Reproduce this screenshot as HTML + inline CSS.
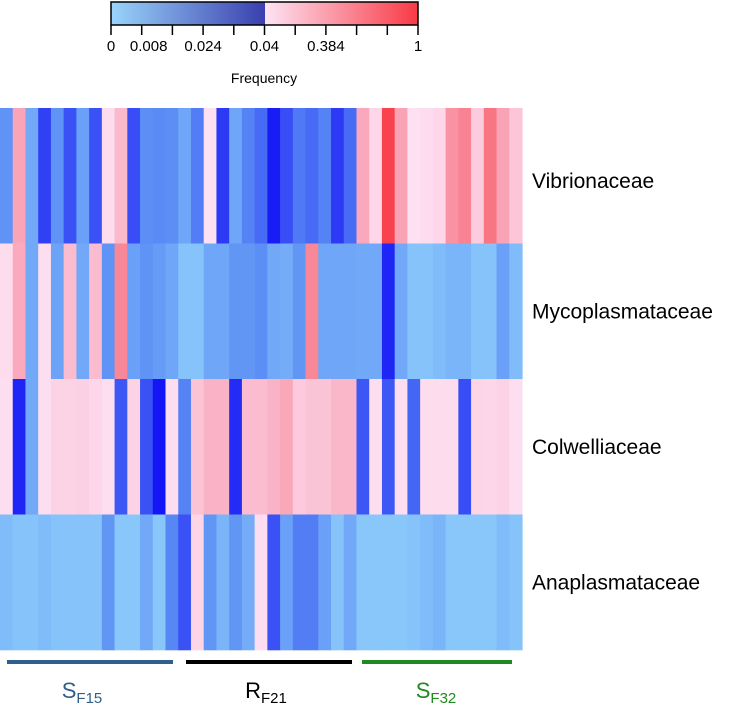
<!DOCTYPE html>
<html><head><meta charset="utf-8"><style>
body{margin:0;background:#fff;width:738px;height:707px;overflow:hidden;font-family:"Liberation Sans",sans-serif}
</style></head><body>
<svg id="chart" width="738" height="707" xmlns="http://www.w3.org/2000/svg" font-family="Liberation Sans, sans-serif">
<defs>
<linearGradient id="gb" x1="0" x2="1"><stop offset="0" stop-color="#9ad4fb"/><stop offset="1" stop-color="#3a3fae"/></linearGradient>
<linearGradient id="gr" x1="0" x2="1"><stop offset="0" stop-color="#fde4f4"/><stop offset="1" stop-color="#f83a45"/></linearGradient>
</defs>
<g>
<rect x="111" y="2" width="154" height="23" fill="url(#gb)"/>
<rect x="265" y="2" width="153" height="23" fill="url(#gr)"/>
<rect x="111" y="2" width="307" height="23" fill="none" stroke="#000" stroke-width="1.5"/>
<g id="ticks"></g>
<text x="264" y="83" font-size="14" text-anchor="middle">Frequency</text>
</g>
<g id="cells"></g>
<g id="rowlabels"></g>
<g>
<rect x="7" y="660" width="166" height="4" fill="#2f5f8a"/>
<rect x="186" y="660" width="166" height="4" fill="#000"/>
<rect x="362" y="660" width="150" height="4" fill="#1f8a1f"/>
<text x="82" y="698" font-size="22" text-anchor="middle" fill="#2f5f8a">S<tspan font-size="15" dy="5">F15</tspan></text>
<text x="266" y="698" font-size="22" text-anchor="middle" fill="#000">R<tspan font-size="15" dy="5">F21</tspan></text>
<text x="436" y="698" font-size="22" text-anchor="middle" fill="#1f8a1f">S<tspan font-size="15" dy="5">F32</tspan></text>
</g>
</svg>
<script>
const rowNames = ["Vibrionaceae","Mycoplasmataceae","Colwelliaceae","Anaplasmataceae"];
const vibrio = [0.016,0.35,0.009,0.033,0.016,0.03,0.012,0.03,0.06,0.22,0.031,0.017,0.018,0.017,0.01,0.021,0.04,0.034,0.01,0.02,0.025,0.038,0.031,0.022,0.025,0.02,0.034,0.025,0.33,0.08,0.95,0.36,0.04,0.06,0.08,0.48,0.58,0.13,0.66,0.36,0.16];
const myco = [0.06,0.32,0.009,0.05,0.011,0.2,0.009,0.2,0.016,0.55,0.012,0.016,0.013,0.01,0.002,0.002,0.01,0.01,0.015,0.015,0.017,0.009,0.008,0.015,0.55,0.01,0.01,0.01,0.009,0.009,0.037,0.009,0.002,0.002,0.004,0.006,0.006,0.002,0.002,0.012,0.004];
const colwell = [0.05,0.037,0.009,0.05,0.1,0.1,0.11,0.08,0.05,0.029,0.1,0.03,0.039,0.05,0.02,0.17,0.26,0.26,0.036,0.2,0.2,0.26,0.34,0.14,0.17,0.17,0.23,0.23,0.029,0.05,0.029,0.05,0.026,0.06,0.06,0.06,0.031,0.09,0.08,0.1,0.05];
const anapl = [0.004,0.002,0.002,0.004,0.002,0.002,0.002,0.002,0.015,0.001,0.001,0.009,0.001,0.019,0.03,0.09,0.015,0.006,0.015,0.008,0.05,0.03,0.012,0.021,0.021,0.012,0.002,0.009,0.001,0.001,0.001,0.001,0.002,0.004,0.006,0.001,0.001,0.001,0.001,0.004,0.002];
const tickLabels = ["0","0.008","","0.024","","0.04","","0.384","","","1"];

const NS="http://www.w3.org/2000/svg";
const rows=[vibrio,myco,colwell,anapl];
const X0=0,X1=522,Y0=108,Y1=650;
const nCols=vibrio.length;
const cw=(X1-X0)/nCols, rh=(Y1-Y0)/rows.length;
const xPos=i=>X0+i*cw, yPos=r=>Y0+r*rh;
const stops=[[0,[140,203,250]],[0.008,[116,172,248]],[0.016,[95,147,245]],[0.024,[74,112,245]],[0.032,[53,72,245]],[0.0399,[16,16,245]],
[0.04,[253,224,242]],[0.2,[251,188,207]],[0.384,[249,160,178]],[0.6,[248,128,143]],[1,[248,58,69]]];
function color(v){
  for(let i=0;i<stops.length-1;i++){
    const a=stops[i],b=stops[i+1];
    if(v<=b[0]){const t=Math.max(0,(v-a[0])/(b[0]-a[0]));
      return "rgb("+a[1].map((c,k)=>Math.round(c+(b[1][k]-c)*t)).join(",")+")";}
  }
  return "rgb(248,58,69)";
}
const cells=document.getElementById("cells");
rows.forEach((row,r)=>{row.forEach((v,i)=>{
  const el=document.createElementNS(NS,"rect");
  
  
  el.setAttribute("x",xPos(i));el.setAttribute("y",yPos(r));
  el.setAttribute("width",cw+0.6);el.setAttribute("height",rh+0.3);
  el.setAttribute("fill",color(v));cells.appendChild(el);
});});
const rl=document.getElementById("rowlabels");
rowNames.forEach((n,r)=>{
  const t=document.createElementNS(NS,"text");
  
  
  t.setAttribute("x",532);t.setAttribute("y",yPos(r)+rh/2+7+(r===0?5:0));
  t.setAttribute("font-size","21");t.textContent=n;rl.appendChild(t);
});
const tk=document.getElementById("ticks");
tickLabels.forEach((l,i)=>{
  const x=111+i*30.7;
  const ln=document.createElementNS(NS,"line");
  
  
  ln.setAttribute("x1",x);ln.setAttribute("x2",x);ln.setAttribute("y1",25);ln.setAttribute("y2",35);
  ln.setAttribute("stroke","#000");ln.setAttribute("stroke-width","1.5");tk.appendChild(ln);
  if(l){const t=document.createElementNS(NS,"text");
  
  
  let tx=x; if(l==="0.008")tx=x+7;
  t.setAttribute("x",tx);t.setAttribute("y",51);t.setAttribute("font-size","15");t.setAttribute("text-anchor","middle");
  t.textContent=l;tk.appendChild(t);}
});
</script>
</body></html>
